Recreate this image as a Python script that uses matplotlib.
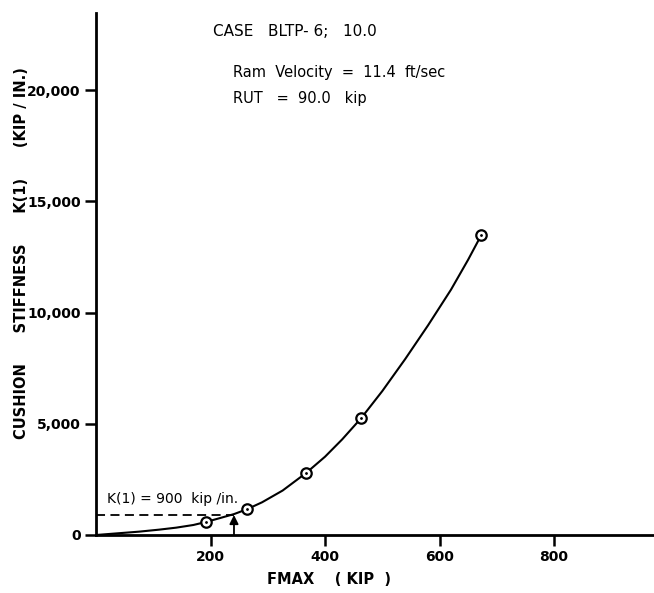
import matplotlib
matplotlib.use("Agg")
import matplotlib.pyplot as plt

# Measured data points (FMAX kip, K(1) kip/in)
fmax_pts = [192, 263, 367, 463, 673]
k_pts = [585, 1150, 2790, 5250, 13490]

# Smooth curve
curve_x = [0, 25, 50, 75, 110, 140, 170, 192, 215, 241, 263, 290, 326, 367, 400, 430, 463, 500, 540, 580, 620, 650, 673]
curve_y = [0, 50, 100, 150, 240, 330, 450, 585, 750, 940, 1150, 1470, 2000, 2790, 3520, 4300, 5250, 6470, 7910, 9430, 11030, 12380, 13490]

xticks = [200, 400, 600, 800]
yticks = [0, 5000, 10000, 15000, 20000]
ytick_labels = ["0", "5,000", "10,000", "15,000", "20,000"]

k_design = 900
f_design = 241

fig = plt.figure(figsize=(6.54, 5.93), dpi=100)
ax = fig.add_axes([96/654, 1-535/593, 1-96/654 + 0.01, (535-13)/593])
ax.set_xlim(0, 986)
ax.set_ylim(0, 23470)

ax.plot(curve_x, curve_y, color="black", lw=1.5, zorder=2, solid_joinstyle="round")
ax.plot(fmax_pts, k_pts, "o", ms=7.5, mfc="white", mec="black", mew=1.6, zorder=3)
ax.plot(fmax_pts, k_pts, ".", ms=2, color="black", zorder=4)

ax.plot([0, f_design], [k_design, k_design], color="black", lw=1.3, ls=(0, (5, 3)))
ax.annotate("", xy=(f_design, k_design), xytext=(f_design, 0),
            arrowprops=dict(arrowstyle="-|>", color="black", lw=1.3,
                            mutation_scale=13, shrinkA=0, shrinkB=0))
ax.text(20, 1300, "K(1) = 900  kip /in.", fontsize=10, ha="left", va="bottom")

for s in ["top", "right"]:
    ax.spines[s].set_visible(False)
ax.spines["left"].set_linewidth(2.0)
ax.spines["bottom"].set_linewidth(2.0)

ax.set_xticks(xticks)
ax.set_xticklabels([str(v) for v in xticks], fontsize=10, fontweight="bold")
ax.set_yticks(yticks)
ax.set_yticklabels(ytick_labels, fontsize=10, fontweight="bold")
ax.tick_params(axis="both", direction="out", length=8, width=1.8, pad=3)

fig.text(213/654, 1-31/593, "CASE   BLTP- 6;   10.0", fontsize=11, ha="left", va="center")
fig.text(233/654, 1-72/593, "Ram  Velocity  =  11.4  ft/sec", fontsize=10.5, ha="left", va="center")
fig.text(233/654, 1-98/593, "RUT   =  90.0   kip", fontsize=10.5, ha="left", va="center")

fig.text(22/654, 1-253/593, "CUSHION      STIFFNESS      K(1)      (KIP / IN.)",
         rotation=90, fontsize=10.5, fontweight="bold", ha="center", va="center")
fig.text(329/654, 1-580/593, "FMAX    ( KIP  )", fontsize=10.5, fontweight="bold",
         ha="center", va="center")

fig.savefig("out.png", dpi=100)
